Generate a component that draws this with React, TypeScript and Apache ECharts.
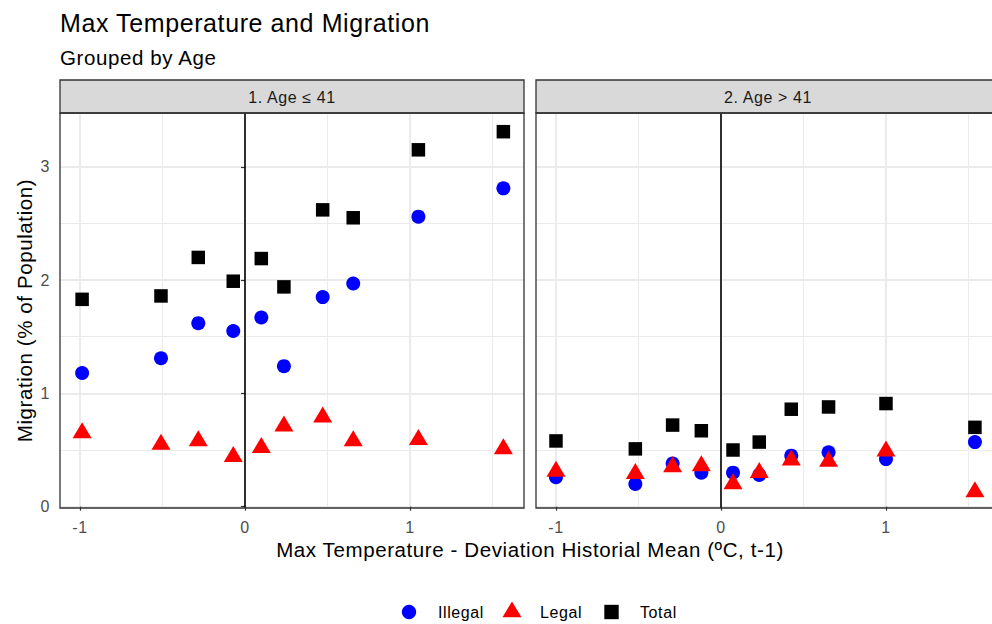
import React, { useEffect, useRef } from 'react';
import * as echarts from 'echarts';

// ---- data ----
const panels = ['1. Age \u2264 41', '2. Age > 41'];
const seriesNames = ['Illegal', 'Legal', 'Total'];

const xAge1 = [-0.987, -0.509, -0.283, -0.071, 0.099, 0.236, 0.471, 0.656, 1.051, 1.566];
const xAge2 = [-1.0, -0.519, -0.293, -0.119, 0.073, 0.232, 0.426, 0.652, 1.0, 1.539];

const illegalAge1 = [1.18, 1.31, 1.62, 1.55, 1.67, 1.24, 1.85, 1.97, 2.56, 2.81];
const legalAge1 = [0.65, 0.55, 0.58, 0.44, 0.52, 0.71, 0.79, 0.58, 0.59, 0.51];
const totalAge1 = [1.83, 1.86, 2.2, 1.99, 2.19, 1.94, 2.62, 2.55, 3.15, 3.31];

const illegalAge2 = [0.26, 0.2, 0.38, 0.3, 0.3, 0.28, 0.45, 0.48, 0.42, 0.57];
const legalAge2 = [0.31, 0.29, 0.35, 0.36, 0.2, 0.3, 0.41, 0.4, 0.49, 0.13];
const totalAge2 = [0.58, 0.51, 0.72, 0.67, 0.5, 0.57, 0.86, 0.88, 0.91, 0.7];

const xMajorTicks = [-1, 0, 1];
const xMinorTicks = [-0.5, 0.5, 1.5];
const yMajorTicks = [0, 1, 2, 3];
const yMinorTicks = [0.5, 1.5, 2.5];

const titleText = 'Max Temperature and Migration';
const subtitleText = 'Grouped by Age';
const xTitle = 'Max Temperature - Deviation Historial Mean (\u00baC, t-1)';
const yTitle = 'Migration (% of Population)';

const FONT = '"Liberation Sans", Arial, Helvetica, sans-serif';
const COLORS = ['#0000FF', '#FF0000', '#000000'];

const CHART_W = 1010;
const CHART_H = 624;

export default function App() {
  const ref = useRef<HTMLDivElement>(null);

  useEffect(() => {
    const el = ref.current;
    if (!el) return;
    const chart = echarts.init(el, null, { renderer: 'svg' });

    const X_MIN = -1.121;
    const X_MAX = 1.691;
    const Y_MIN = -0.012;
    const Y_MAX = 3.475;

    const panelW = 464;
    const panelTop = 113;
    const panelH = 395;
    const panelLefts = [60, 536];
    const gridDefs = panelLefts.map((l) => ({
      left: l,
      width: panelW,
      top: panelTop,
      height: panelH,
    }));

    const xAxes: any[] = [];
    const yAxes: any[] = [];
    gridDefs.forEach((_, gi) => {
      xAxes.push({
        type: 'value', gridIndex: gi, min: X_MIN, max: X_MAX,
        axisLine: { show: false },
        axisTick: { show: true, customValues: xMajorTicks, length: 4, lineStyle: { color: '#333333', width: 1.2 } },
        axisLabel: { customValues: xMajorTicks, color: '#4D4D4D', fontSize: 16, fontFamily: FONT, margin: 11, lineHeight: 16 },
        splitLine: { show: true, lineStyle: { color: '#EBEBEB', width: 2 } },
      });
      xAxes.push({
        type: 'value', gridIndex: gi, min: X_MIN, max: X_MAX,
        axisLine: { show: false },
        axisTick: { show: false, customValues: xMinorTicks },
        axisLabel: { show: false },
        splitLine: { show: true, lineStyle: { color: '#EBEBEB', width: 1 } },
      });
      yAxes.push({
        type: 'value', gridIndex: gi, min: Y_MIN, max: Y_MAX,
        axisLine: { show: false },
        axisTick: { show: gi === 0, customValues: yMajorTicks, length: 4, lineStyle: { color: '#333333', width: 1.2 } },
        axisLabel: { show: gi === 0, customValues: yMajorTicks, color: '#4D4D4D', fontSize: 16, fontFamily: FONT, margin: 10 },
        splitLine: { show: true, lineStyle: { color: '#EBEBEB', width: 2 } },
      });
      yAxes.push({
        type: 'value', gridIndex: gi, min: Y_MIN, max: Y_MAX,
        axisLine: { show: false },
        axisTick: { show: false, customValues: yMinorTicks },
        axisLabel: { show: false },
        splitLine: { show: true, lineStyle: { color: '#EBEBEB', width: 1 } },
      });
    });

    const panelData = [
      { x: xAge1, vals: [illegalAge1, legalAge1, totalAge1] },
      { x: xAge2, vals: [illegalAge2, legalAge2, totalAge2] },
    ];
    const styles = [
      { symbol: 'circle', size: 14, offset: [0, 0] },
      { symbol: 'triangle', size: [19, 16], offset: [0, -2.7] },
      { symbol: 'rect', size: 13.5, offset: [0, 0] },
    ];

    const series: any[] = [];
    panelData.forEach((p, gi) => {
      seriesNames.forEach((name, si) => {
        const st = styles[si];
        const s: any = {
          type: 'scatter',
          name,
          xAxisIndex: gi * 2,
          yAxisIndex: gi * 2,
          data: p.x.map((x, i) => [x, p.vals[si][i]]),
          symbol: st.symbol,
          symbolSize: st.size,
          symbolOffset: st.offset,
          itemStyle: { color: COLORS[si], opacity: 1 },
          emphasis: { disabled: true },
          z: 3,
        };
        if (si === 0) {
          s.markLine = {
            silent: true,
            symbol: ['none', 'none'],
            label: { show: false },
            lineStyle: { color: '#000000', width: 1.6, type: 'solid' },
            emphasis: { disabled: true },
            data: [{ xAxis: 0 }],
          };
        }
        series.push(s);
      });
    });

    const graphic: any[] = [
      { type: 'text', x: 60, y: 23, style: { text: titleText, fill: '#000', fontSize: 25, fontFamily: FONT, align: 'left', verticalAlign: 'middle' } },
      { type: 'text', x: 60, y: 57.4, style: { text: subtitleText, fill: '#000', fontSize: 20.5, fontFamily: FONT, align: 'left', verticalAlign: 'middle' } },
      { type: 'text', x: 530, y: 549.6, style: { text: xTitle, fill: '#000', fontSize: 20.5, fontFamily: FONT, align: 'center', verticalAlign: 'middle' } },
      { type: 'text', x: 24, y: 310.5, rotation: Math.PI / 2, style: { text: yTitle, fill: '#000', fontSize: 20.5, fontFamily: FONT, align: 'center', verticalAlign: 'middle' } },
    ];
    panelLefts.forEach((lx, gi) => {
      graphic.push({
        type: 'rect', z: 100,
        shape: { x: lx, y: 80, width: panelW, height: 33 },
        style: { fill: '#D9D9D9', stroke: '#333333', lineWidth: 1.3 },
      });
      graphic.push({
        type: 'text', z: 101, x: lx + panelW / 2, y: 97.5,
        style: { text: panels[gi], fill: '#1A1A1A', fontSize: 16, fontFamily: FONT, align: 'center', verticalAlign: 'middle' },
      });
      graphic.push({
        type: 'rect', z: 100,
        shape: { x: lx, y: panelTop, width: panelW, height: panelH },
        style: { fill: 'none', stroke: '#333333', lineWidth: 1.3 },
      });
    });

    // legend (keys + labels)
    const legendY = 612;
    const keyX = [409, 512, 611.5];
    const labelX = [438, 540, 640];
    graphic.push({ type: 'circle', z: 50, shape: { cx: keyX[0], cy: legendY, r: 7.2 }, style: { fill: COLORS[0] } });
    graphic.push({
      type: 'polygon', z: 50,
      shape: { points: [[keyX[1], legendY - 10.5], [keyX[1] + 9.5, legendY + 5.2], [keyX[1] - 9.5, legendY + 5.2]] },
      style: { fill: COLORS[1] },
    });
    graphic.push({ type: 'rect', z: 50, shape: { x: keyX[2] - 7.2, y: legendY - 7.2, width: 14.4, height: 14.4 }, style: { fill: COLORS[2] } });
    seriesNames.forEach((n, i) => {
      graphic.push({
        type: 'text', z: 50, x: labelX[i], y: 612.8,
        style: { text: n, fill: '#000', fontSize: 16, fontFamily: FONT, align: 'left', verticalAlign: 'middle' },
      });
    });

    chart.setOption({
      animation: false,
      backgroundColor: '#FFFFFF',
      textStyle: { fontFamily: FONT },
      grid: gridDefs.map((g) => ({ ...g, show: false, containLabel: false })),
      xAxis: xAxes,
      yAxis: yAxes,
      series,
      graphic,
    });

    return () => chart.dispose();
  }, []);

  return (
    <div style={{ position: 'fixed', left: 0, top: 0, width: 992, height: 624, overflow: 'hidden', background: '#fff' }}>
      <div
        ref={ref}
        style={{ width: CHART_W, height: CHART_H, letterSpacing: '0.6px', background: '#fff' }}
      />
    </div>
  );
}
